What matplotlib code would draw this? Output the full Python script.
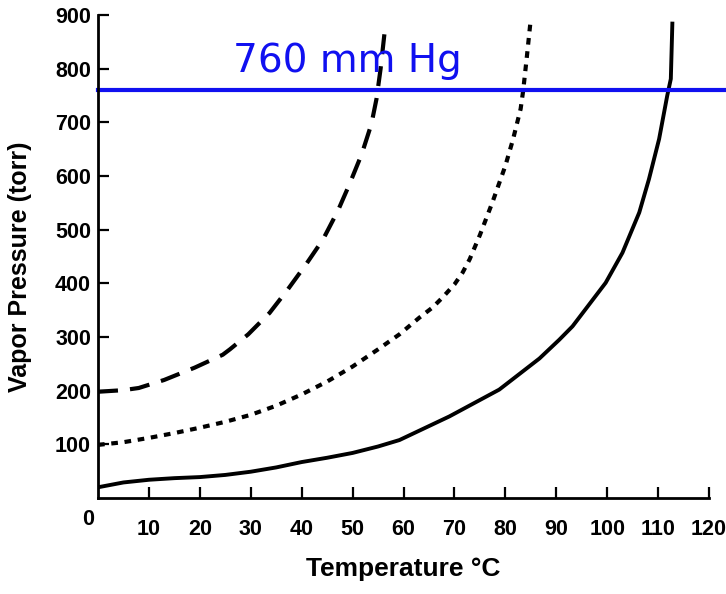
import matplotlib.pyplot as plt

# values
dash_t = [0, 5, 8, 13, 19, 24.5, 25.9, 29.5, 33.7, 37.3, 40.9, 44.2, 47.1,
          49.4, 51.8, 53.7, 54.7, 55.5, 56.3, 56.8]
dash_p = [198, 201, 205, 220, 243, 267, 277, 305, 345, 389, 436, 482, 535,
          585, 641, 697, 744, 800, 869, 884]

dot_t = [0, 5, 10, 15, 20, 25, 30, 35, 40, 45, 50, 55, 59.2, 63.1, 65.7,
         67.7, 70, 71.6, 73, 75, 77.5, 80, 81.5, 83, 83.5, 84.2, 84.9]
dot_p = [99, 104, 112, 121, 131, 142, 155, 172, 193, 217, 245, 277, 305, 336,
         355, 374, 398, 420, 445, 490, 552, 619, 668, 725, 759, 820, 884]

solid_t = [0, 5, 10, 15, 20, 25, 30, 35, 40, 45, 50, 55, 59.2, 69, 78.8,
           86.7, 90.6, 93.2, 99.7, 103, 106.3, 108.2, 110.2, 111.8, 112.5, 112.8]
solid_p = [20, 29, 34, 37, 39, 43, 49, 57, 67, 75, 84, 96, 108, 152, 202,
           260, 295, 320, 401, 457, 532, 594, 669, 750, 781, 884]

x_ticks = [10, 20, 30, 40, 50, 60, 70, 80, 90, 100, 110, 120]
y_ticks = [100, 200, 300, 400, 500, 600, 700, 800, 900]
atm = 760

plt.rcParams["font.family"] = ["Liberation Sans", "DejaVu Sans"]

fig = plt.figure(figsize=(7.26, 5.94), dpi=100)
ax = fig.add_axes([0.135, 0.1616, 0.8416, 0.8131])

ax.plot(dash_t, dash_p, color="black", lw=3, linestyle=(0, (4.8, 2.9)))
ax.plot(dot_t, dot_p, color="black", lw=3, linestyle=(0, (1.6, 1.6)))
ax.plot(solid_t, solid_p, color="black", lw=2.8)

ax.plot([0, 123.5], [atm, atm], color="#1010f0", lw=3, clip_on=False)
ax.text(26.5, 778, "760 mm Hg", color="#1010f0", fontsize=28,
        family="DejaVu Sans", ha="left", va="bottom")

ax.set_xlim(0, 120)
ax.set_ylim(0, 900)
ax.set_xticks(x_ticks)
ax.set_yticks(y_ticks)
ax.spines["top"].set_visible(False)
ax.spines["right"].set_visible(False)
ax.spines["left"].set_linewidth(2)
ax.spines["bottom"].set_linewidth(2)
ax.tick_params(direction="in", length=8, width=1.6, labelsize=15.5)
ax.tick_params(axis="x", pad=15)
ax.tick_params(axis="y", pad=5)
for lab in ax.get_xticklabels() + ax.get_yticklabels():
    lab.set_fontweight("bold")
ax.text(-2, -40, "0", fontsize=15.5, fontweight="bold", ha="center", va="center")

ax.set_xlabel("Temperature °C", fontsize=19, fontweight="bold", labelpad=12)
ax.set_ylabel("Vapor Pressure (torr)", fontsize=18, fontweight="bold")
ax.yaxis.set_label_coords(-0.108, 0.478)

fig.savefig("out.png", dpi=100)
